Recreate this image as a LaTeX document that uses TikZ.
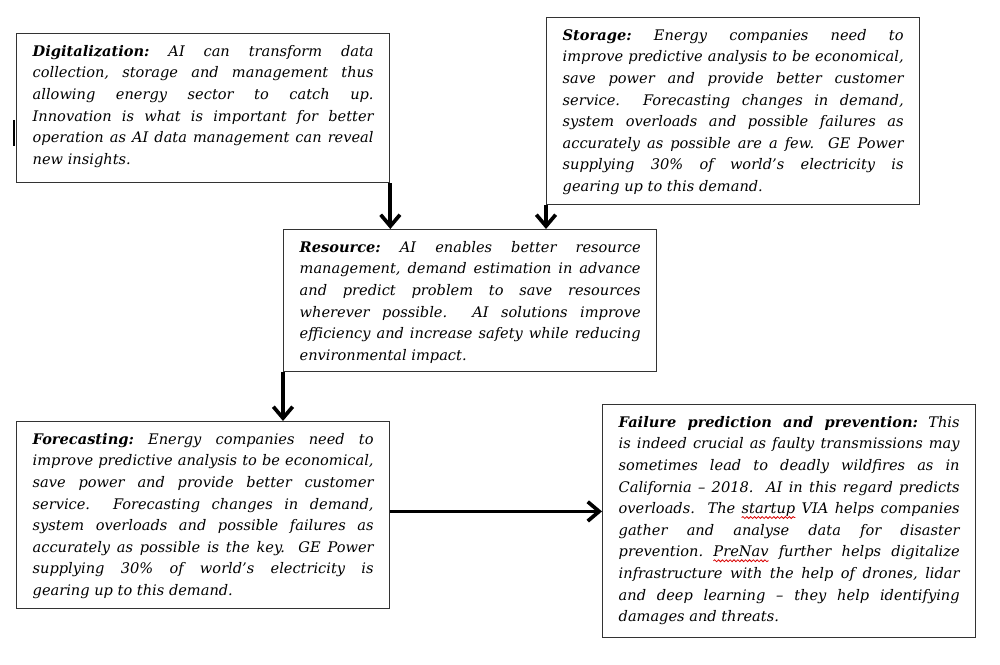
\documentclass[tikz,border=0pt]{standalone}
\usepackage{fontspec}
\setmainfont{DejaVu Serif}
\usetikzlibrary{arrows.meta,calc,decorations.pathmorphing}
\frenchspacing
\newcommand\jl[1]{\hbox to\hsize{\strut #1}}
\newcommand\lastl[1]{\hbox{\strut #1}}
\newcommand\boxtext[2]{\vbox to #1{\hsize=6.82cm\vskip4.2pt #2\vfil}}
\newdimen\rwd
\newcommand\redwave[1]{\setbox0\hbox{#1}\rwd=\wd0\rlap{\tikz[overlay,baseline=0pt]\draw[red!85!black,line width=0.45pt,decorate,decoration={snake,amplitude=0.55pt,segment length=2.2pt}] (0pt,-2.2pt) -- (\the\rwd,-2.2pt);}#1}
\tikzset{
  box/.style={draw=black!80, line width=0.8pt, anchor=north west, inner xsep=0.32cm, inner ysep=0pt,
    font=\fontsize{8.3}{12.3}\selectfont\itshape\frenchspacing, text=black},
  arr/.style={line width=2.1pt, -{Straight Barb[length=6.5pt,width=11pt,line width=2.1pt]}}
}
\begin{document}
\begin{tikzpicture}[x=0.02cm,y=-0.02cm]
\useasboundingbox (0,0) rectangle (1000,665);
\node[box] (dig) at (16,33) {\boxtext{2.98cm}{%
\jl{\textbf{Digitalization:} AI can transform data}
\jl{collection, storage and management thus}
\jl{allowing energy sector to catch up.}
\jl{Innovation is what is important for better}
\jl{operation as AI data management can reveal}
\lastl{new insights.}}};
\node[box] (sto) at (546,17) {\boxtext{3.74cm}{%
\jl{\textbf{Storage:} Energy companies need to}
\jl{improve predictive analysis to be economical,}
\jl{save power and provide better customer}
\jl{service.\ \ Forecasting changes in demand,}
\jl{system overloads and possible failures as}
\jl{accurately as possible are a few.\ \ GE Power}
\jl{supplying 30\% of world’s electricity is}
\lastl{gearing up to this demand.}}};
\node[box] (res) at (283,229) {\boxtext{2.84cm}{%
\jl{\textbf{Resource:} AI enables better resource}
\jl{management, demand estimation in advance}
\jl{and predict problem to save resources}
\jl{wherever possible.\ \ AI solutions improve}
\jl{efficiency and increase safety while reducing}
\lastl{environmental impact.}}};
\node[box] (fore) at (16,421) {\boxtext{3.74cm}{%
\jl{\textbf{Forecasting:} Energy companies need to}
\jl{improve predictive analysis to be economical,}
\jl{save power and provide better customer}
\jl{service.\ \ Forecasting changes in demand,}
\jl{system overloads and possible failures as}
\jl{accurately as possible is the key.\ \ GE Power}
\jl{supplying 30\% of world’s electricity is}
\lastl{gearing up to this demand.}}};
\node[box] (fail) at (602,404) {\boxtext{4.66cm}{%
\jl{\textbf{Failure prediction and prevention:} This}
\jl{is indeed crucial as faulty transmissions may}
\jl{sometimes lead to deadly wildfires as in}
\jl{California – 2018.\ \ AI in this regard predicts}
\jl{overloads.\ \ The \redwave{startup} VIA helps companies}
\jl{gather and analyse data for disaster}
\jl{prevention. \redwave{PreNav} further helps digitalize}
\jl{infrastructure with the help of drones, lidar}
\jl{and deep learning – they help identifying}
\lastl{damages and threats.}}};
\coordinate (fe) at ($(fore.north east)!0.48!(fore.south east)$);
\draw[arr] (dig.south east) -- (res.north -| dig.south east);
\draw[arr] (sto.south west) -- (res.north -| sto.south west);
\draw[arr] (res.south west) -- (fore.north -| res.south west);
\draw[arr] (fe) -- (fail.west |- fe);
\draw[line width=1.2pt] (14,120) -- (14,146);
\end{tikzpicture}
\end{document}
